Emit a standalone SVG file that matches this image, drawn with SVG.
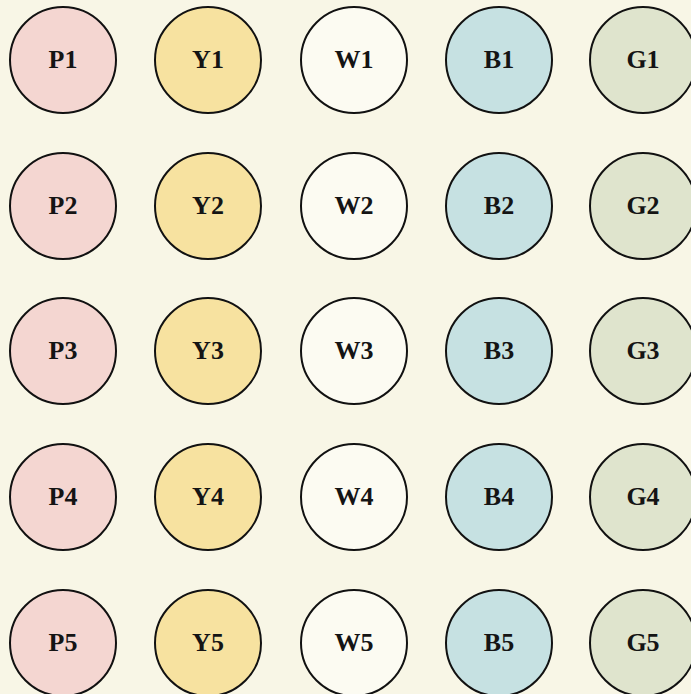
<svg xmlns="http://www.w3.org/2000/svg" width="691" height="694" viewBox="0 0 691 694">
<style>
.n{stroke:#111;stroke-width:2}
.p{fill:#f4d6d1}.y{fill:#f7e2a0}.w{fill:#fcfbf2}.b{fill:#c6e1e2}.g{fill:#dfe4cd}
text{font-family:"Liberation Serif","Times New Roman",serif;font-size:26px;font-weight:bold;fill:#141414;text-anchor:middle}
</style>
<rect width="691" height="694" fill="#f8f6e6"/>
<g id="connectors"/>
<g id="P1"><circle class="n p" cx="63" cy="60" r="53"/><text x="63" y="68">P1</text></g>
<g id="Y1"><circle class="n y" cx="208" cy="60" r="53"/><text x="208" y="68">Y1</text></g>
<g id="W1"><circle class="n w" cx="354" cy="60" r="53"/><text x="354" y="68">W1</text></g>
<g id="B1"><circle class="n b" cx="499" cy="60" r="53"/><text x="499" y="68">B1</text></g>
<g id="G1"><circle class="n g" cx="643" cy="60" r="53"/><text x="643" y="68">G1</text></g>
<g id="P2"><circle class="n p" cx="63" cy="206" r="53"/><text x="63" y="214">P2</text></g>
<g id="Y2"><circle class="n y" cx="208" cy="206" r="53"/><text x="208" y="214">Y2</text></g>
<g id="W2"><circle class="n w" cx="354" cy="206" r="53"/><text x="354" y="214">W2</text></g>
<g id="B2"><circle class="n b" cx="499" cy="206" r="53"/><text x="499" y="214">B2</text></g>
<g id="G2"><circle class="n g" cx="643" cy="206" r="53"/><text x="643" y="214">G2</text></g>
<g id="P3"><circle class="n p" cx="63" cy="351" r="53"/><text x="63" y="359">P3</text></g>
<g id="Y3"><circle class="n y" cx="208" cy="351" r="53"/><text x="208" y="359">Y3</text></g>
<g id="W3"><circle class="n w" cx="354" cy="351" r="53"/><text x="354" y="359">W3</text></g>
<g id="B3"><circle class="n b" cx="499" cy="351" r="53"/><text x="499" y="359">B3</text></g>
<g id="G3"><circle class="n g" cx="643" cy="351" r="53"/><text x="643" y="359">G3</text></g>
<g id="P4"><circle class="n p" cx="63" cy="497" r="53"/><text x="63" y="505">P4</text></g>
<g id="Y4"><circle class="n y" cx="208" cy="497" r="53"/><text x="208" y="505">Y4</text></g>
<g id="W4"><circle class="n w" cx="354" cy="497" r="53"/><text x="354" y="505">W4</text></g>
<g id="B4"><circle class="n b" cx="499" cy="497" r="53"/><text x="499" y="505">B4</text></g>
<g id="G4"><circle class="n g" cx="643" cy="497" r="53"/><text x="643" y="505">G4</text></g>
<g id="P5"><circle class="n p" cx="63" cy="643" r="53"/><text x="63" y="651">P5</text></g>
<g id="Y5"><circle class="n y" cx="208" cy="643" r="53"/><text x="208" y="651">Y5</text></g>
<g id="W5"><circle class="n w" cx="354" cy="643" r="53"/><text x="354" y="651">W5</text></g>
<g id="B5"><circle class="n b" cx="499" cy="643" r="53"/><text x="499" y="651">B5</text></g>
<g id="G5"><circle class="n g" cx="643" cy="643" r="53"/><text x="643" y="651">G5</text></g>
</svg>
